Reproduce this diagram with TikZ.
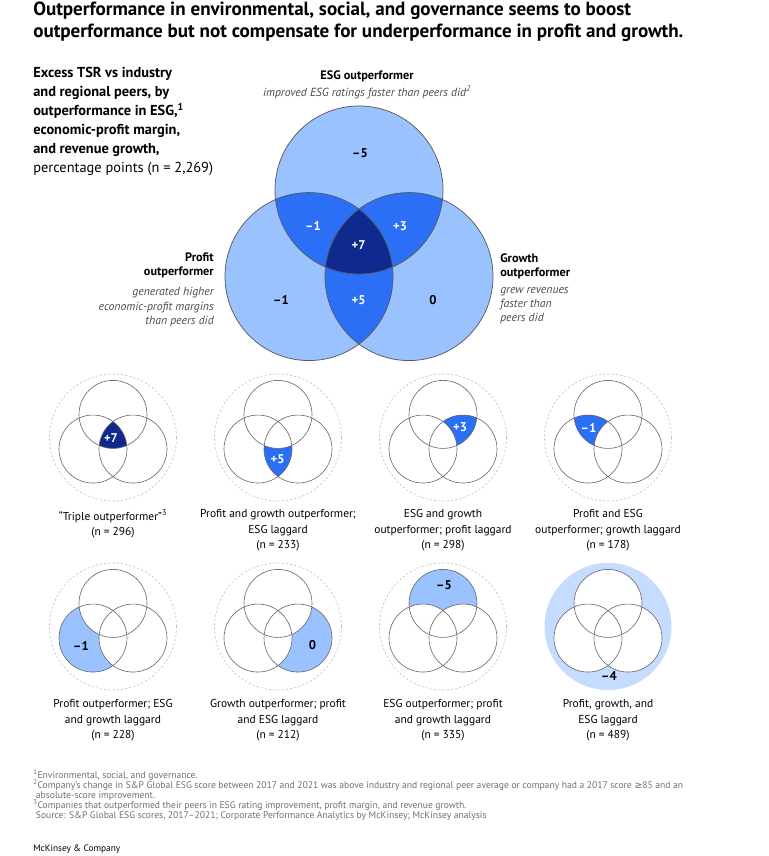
\documentclass[tikz,border=0pt]{standalone}
\usepackage{fontspec}
\setmainfont{PT Sans}
\newfontfamily\symbolfont{DejaVu Sans}
\usepackage{xcolor}
\usepackage{tikz}
\usetikzlibrary{positioning,calc}

\definecolor{esglight}{HTML}{99C2FF}
\definecolor{esgmid}{HTML}{2B6FF7}
\definecolor{esgdark}{HTML}{0F2A8E}
\definecolor{esgpale}{HTML}{C5DCFF}
\definecolor{ringgray}{HTML}{C4C4C4}
\definecolor{notegray}{HTML}{707070}

% Keep baselines even when a line carries a superscript.
\newcommand{\evenlines}{\lineskiplimit=-5pt\relax}
% Three circle centres around a centroid: x, y, side, name prefix.
\newcommand{\vennpoints}[4]{%
  \coordinate (#4-mid)   at (#1,#2);
  \coordinate (#4-top)   at (#1,#2-#3*0.57735);
  \coordinate (#4-left)  at (#1-#3*0.5,#2+#3*0.288675);
  \coordinate (#4-right) at (#1+#3*0.5,#2+#3*0.288675);
}
% Outline of the three circles of one diagram.
\newcommand{\vennrings}[3]{%
  \foreach \part in {top,left,right} {
    \draw[#3] (#1-\part) circle[radius=#2];
  }
}

\tikzset{
  bigline/.style={draw=black!65, line width=0.55pt},
  smallline/.style={draw=black!60, line width=0.45pt},
  dashring/.style={draw=ringgray, line width=0.5pt, dash pattern=on 1.6pt off 1.6pt},
  vennvalue/.style={font=\bfseries\fontsize{9.5}{11}\selectfont, inner sep=0pt},
  headtext/.style={font=\bfseries\fontsize{9.2}{10.5}\selectfont, inner sep=0pt},
  notetext/.style={font=\itshape\fontsize{8.8}{10.6}\selectfont, text=black!70, inner sep=0pt},
  captiontext/.style={font=\fontsize{8.6}{11.4}\selectfont\evenlines, align=center, inner sep=0pt, anchor=north},
}

\begin{document}
\begin{tikzpicture}[x=0.75pt, y=-0.75pt, line join=round]
  \useasboundingbox (0,0) rectangle (768,856);
  \fill[white] (0,0) rectangle (768,856);

  % Heading and left-hand description
  \node[anchor=north west, align=left, inner sep=0pt,
    font=\bfseries\fontsize{14.3}{16.5}\selectfont] (title) at (33,2)
    {Outperformance in environmental, social, and governance seems to boost\\
     outperformance but not compensate for underperformance in profit and growth.};
  \node[anchor=north west, align=left, inner sep=0pt,
    font=\bfseries\fontsize{10.8}{14.25}\selectfont\evenlines] (subtitle) at (33,67)
    {Excess TSR vs industry\\
     and regional peers, by\\
     outperformance in ESG,\textsuperscript{1}\\
     economic-profit margin,\\
     and revenue growth,\\
     {\mdseries percentage points (n = 2,269)}};

  % Large diagram
  \vennpoints{359}{247.7}{100}{big}
  \fill[esglight] (big-top) circle[radius=84] (big-left) circle[radius=84]
    (big-right) circle[radius=84];
  \begin{scope}
    \clip (big-top) circle[radius=84];
    \fill[esgmid] (big-left) circle[radius=84] (big-right) circle[radius=84];
  \end{scope}
  \begin{scope}
    \clip (big-left) circle[radius=84];
    \fill[esgmid] (big-right) circle[radius=84];
  \end{scope}
  \begin{scope}
    \clip (big-top) circle[radius=84];
    \clip (big-left) circle[radius=84];
    \fill[esgdark] (big-right) circle[radius=84];
  \end{scope}
  \vennrings{big}{84}{bigline}

  \node[vennvalue] (big-esg) at (360,152.7) {--5};
  \node[vennvalue, text=white] (big-profit-esg) at (313,225.7) {--1};
  \node[vennvalue, text=white] (big-esg-growth) at (400,225.7) {+3};
  \node[vennvalue, text=white] (big-all) at (358.5,245) {+7};
  \node[vennvalue, text=white] (big-profit-growth) at (358.5,300) {+5};
  \node[vennvalue] (big-profit) at (281,300) {--1};
  \node[vennvalue] (big-growth) at (433,300) {0};

  \node[headtext] (esg-head) at (367,76) {ESG outperformer};
  \node[notetext, below=2.5pt of esg-head] (esg-note)
    {improved ESG ratings faster than peers did\textsuperscript{2}};
  \node[headtext, anchor=north east, align=right] (profit-head) at (214,253)
    {Profit\\outperformer};
  \node[notetext, align=right, below=6.5pt of profit-head.south east,
    anchor=north east] (profit-note)
    {generated higher\\economic-profit margins\\than peers did};
  \node[headtext, anchor=north west, align=left] (growth-head) at (500,253)
    {Growth\\outperformer};
  \node[notetext, align=left, below=6.5pt of growth-head.south west,
    anchor=north west] (growth-note)
    {grew revenues\\faster than\\peers did};

  % Small diagrams, two rows of four
  \foreach \vname/\cx/\cy in {triple/113/437.5, profgrow/278/437.5,
      esggrow/443/437.5, profesg/608/437.5, profonly/113/626.5,
      growonly/278/626.5, esgonly/443/626.5, laggard/608/626.5} {
    \vennpoints{\cx}{\cy}{40}{\vname}
  }

  % highlighted regions
  \begin{scope}
    \clip (triple-top) circle[radius=34];
    \clip (triple-left) circle[radius=34];
    \fill[esgdark] (triple-right) circle[radius=34];
  \end{scope}
  \begin{scope}
    \clip (profgrow-left) circle[radius=34];
    \fill[esgmid] (profgrow-right) circle[radius=34];
  \end{scope}
  \fill[white] (profgrow-top) circle[radius=34];
  \begin{scope}
    \clip (esggrow-top) circle[radius=34];
    \fill[esgmid] (esggrow-right) circle[radius=34];
  \end{scope}
  \fill[white] (esggrow-left) circle[radius=34];
  \begin{scope}
    \clip (profesg-top) circle[radius=34];
    \fill[esgmid] (profesg-left) circle[radius=34];
  \end{scope}
  \fill[white] (profesg-right) circle[radius=34];
  \fill[esglight] (profonly-left) circle[radius=34];
  \fill[white] (profonly-top) circle[radius=34] (profonly-right) circle[radius=34];
  \fill[esglight] (growonly-right) circle[radius=34];
  \fill[white] (growonly-top) circle[radius=34] (growonly-left) circle[radius=34];
  \fill[esglight] (esgonly-top) circle[radius=34];
  \fill[white] (esgonly-left) circle[radius=34] (esgonly-right) circle[radius=34];
  \fill[esgpale] (laggard-mid) circle[radius=63.5];
  \fill[white] (laggard-top) circle[radius=34] (laggard-left) circle[radius=34]
    (laggard-right) circle[radius=34];

  \foreach \vname in {triple,profgrow,esggrow,profesg,profonly,growonly,esgonly,laggard} {
    \vennrings{\vname}{34}{smallline}
  }
  \foreach \vname in {triple,profgrow,esggrow,profesg,profonly,growonly,esgonly} {
    \draw[dashring] (\vname-mid) circle[radius=63.5];
  }

  \node[vennvalue, text=white] (triple-value) at (111,438) {+7};
  \node[vennvalue, text=white] (profgrow-value) at (277.5,459.5) {+5};
  \node[vennvalue, text=white] (esggrow-value) at (460,427.5) {+3};
  \node[vennvalue, text=white] (profesg-value) at (588.5,427.5) {--1};
  \node[vennvalue] (profonly-value) at (81,645.5) {--1};
  \node[vennvalue] (growonly-value) at (312.5,645.5) {0};
  \node[vennvalue] (esgonly-value) at (444,585.5) {--5};
  \node[vennvalue] (laggard-value) at (609,676) {--4};

  \node[captiontext] (triple-caption) at (113,509.5)
    {``Triple outperformer''\textsuperscript{3}\\(n = 296)};
  \node[captiontext] (profgrow-caption) at (278,509.5)
    {Profit and growth outperformer;\\ESG laggard\\(n = 233)};
  \node[captiontext] (esggrow-caption) at (443,509.5)
    {ESG and growth\\outperformer; profit laggard\\(n = 298)};
  \node[captiontext] (profesg-caption) at (608,509.5)
    {Profit and ESG\\outperformer; growth laggard\\(n = 178)};
  \node[captiontext] (profonly-caption) at (113,699.5)
    {Profit outperformer; ESG\\and growth laggard\\(n = 228)};
  \node[captiontext] (growonly-caption) at (278,699.5)
    {Growth outperformer; profit\\and ESG laggard\\(n = 212)};
  \node[captiontext] (esgonly-caption) at (443,699.5)
    {ESG outperformer; profit\\and growth laggard\\(n = 335)};
  \node[captiontext] (laggard-caption) at (608,699.5)
    {Profit, growth, and\\ESG laggard\\(n = 489)};

  % Notes
  \node[anchor=north west, align=left, inner sep=0pt, text=notegray,
    font=\fontsize{7.2}{7.5}\selectfont\evenlines] (footnotes) at (33,769)
    {\textsuperscript{1}Environmental, social, and governance.\\
     \textsuperscript{2}Company's change in S\&P Global ESG score between 2017 and 2021 was above industry and regional peer average or company had a 2017 score {\symbolfont ≥}85 and an\\
     \hspace*{2pt}absolute-score improvement.\\
     \textsuperscript{3}Companies that outperformed their peers in ESG rating improvement, profit margin, and revenue growth.\\
     \hspace*{2pt}Source: S\&P Global ESG scores, 2017--2021; Corporate Performance Analytics by McKinsey; McKinsey analysis};
  \node[anchor=west, inner sep=0pt, font=\fontsize{7}{8}\selectfont] (brand) at (33,849)
    {McKinsey \& Company};
\end{tikzpicture}
\end{document}
